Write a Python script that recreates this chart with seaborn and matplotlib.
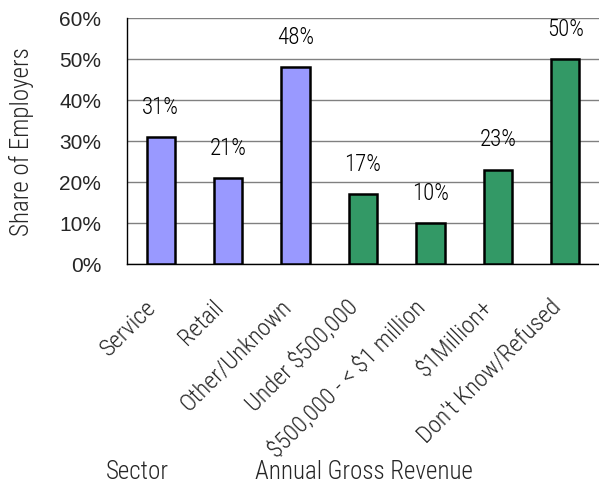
import matplotlib
matplotlib.use("Agg")
import matplotlib.pyplot as plt
import seaborn as sns
import pandas as pd
import numpy as np

# Survey results: share of employers by sector and by annual gross revenue
categories = ["Service", "Retail", "Other/Unknown", "Under \\$500,000",
              "\\$500,000 - < \\$1 million", "\\$1Million+", "Don't Know/Refused"]
shares = [31, 21, 48, 17, 10, 23, 50]
value_labels = ["31%", "21%", "48%", "17%", "10%", "23%", "50%"]
groups = ["Sector", "Sector", "Sector", "Annual Gross Revenue",
          "Annual Gross Revenue", "Annual Gross Revenue", "Annual Gross Revenue"]
y_ticks = [0, 10, 20, 30, 40, 50, 60]
y_tick_labels = ["0%", "10%", "20%", "30%", "40%", "50%", "60%"]

df = pd.DataFrame({"category": categories, "share": shares, "group": groups})
palette = {"Sector": "#9999FF", "Annual Gross Revenue": "#339966"}

sns.set_style("white")
plt.rcParams["font.family"] = ["Liberation Sans", "DejaVu Sans"]

# condensed face for titles and labels
NARROW = ["Roboto Condensed", "Archivo Narrow", "Liberation Sans", "DejaVu Sans"]
WEIGHT = "light"
FS_TITLE = 18
FS_CAT = 17.5
FS_VALUE = 16.5
FS_YTICK = 15

fig = plt.figure(figsize=(5.99, 4.85), dpi=100)
ax_w = 0.788
ax = fig.add_axes([0.212, 0.454, ax_w, 0.507])

sns.barplot(data=df, x="category", y="share", hue="group", palette=palette,
            saturation=1, dodge=False, width=0.42, edgecolor="black",
            linewidth=1.8, legend=False, ax=ax, zorder=3)

ax.set_ylim(0, 60)
ax.set_xlim(-0.5, len(categories) - 0.5)
ax.set_yticks(y_ticks)
ax.set_yticklabels(y_tick_labels, fontsize=FS_YTICK)
ax.yaxis.grid(True, color="#808080", linewidth=1.0, zorder=0)
ax.set_axisbelow(True)

# category labels at bar centres, tick marks at category boundaries
ax.set_xticks(range(len(categories)))
ax.set_xticklabels(categories, rotation=45, ha="right", va="top",
                   fontsize=FS_CAT, family=NARROW, fontweight=WEIGHT)
ax.tick_params(axis="x", which="major", length=0, pad=22)
ax.set_xticks(np.arange(-0.5, len(categories), 1.0), minor=True)
ax.tick_params(axis="x", which="minor", length=6, width=1, color="black", direction="out")
ax.tick_params(axis="y", length=6.5, width=1, color="black", direction="out", pad=12)

for s in ["top", "right"]:
    ax.spines[s].set_visible(False)
for s in ["left", "bottom"]:
    ax.spines[s].set_color("black")
    ax.spines[s].set_linewidth(1.0)

ax.set_xlabel("")
ax.set_ylabel("Share of Employers", fontsize=FS_TITLE, family=NARROW,
              fontweight=WEIGHT)
ax.yaxis.set_label_coords((34 - 127) / (ax_w * 599), 0.5)

# value labels floating above each bar
for i, (v, lab) in enumerate(zip(shares, value_labels)):
    ax.text(i, v + 7.5, lab, ha="center", va="center", fontsize=FS_VALUE,
            family=NARROW, fontweight=WEIGHT, color="black")

# group captions under the category labels
fig.text(137 / 599, 1 - 472 / 485, "Sector", ha="center", va="center",
         fontsize=FS_TITLE, family=NARROW, fontweight=WEIGHT)
fig.text(364 / 599, 1 - 472 / 485, "Annual Gross Revenue", ha="center",
         va="center", fontsize=FS_TITLE, family=NARROW, fontweight=WEIGHT)

fig.savefig("out.png", dpi=100)
